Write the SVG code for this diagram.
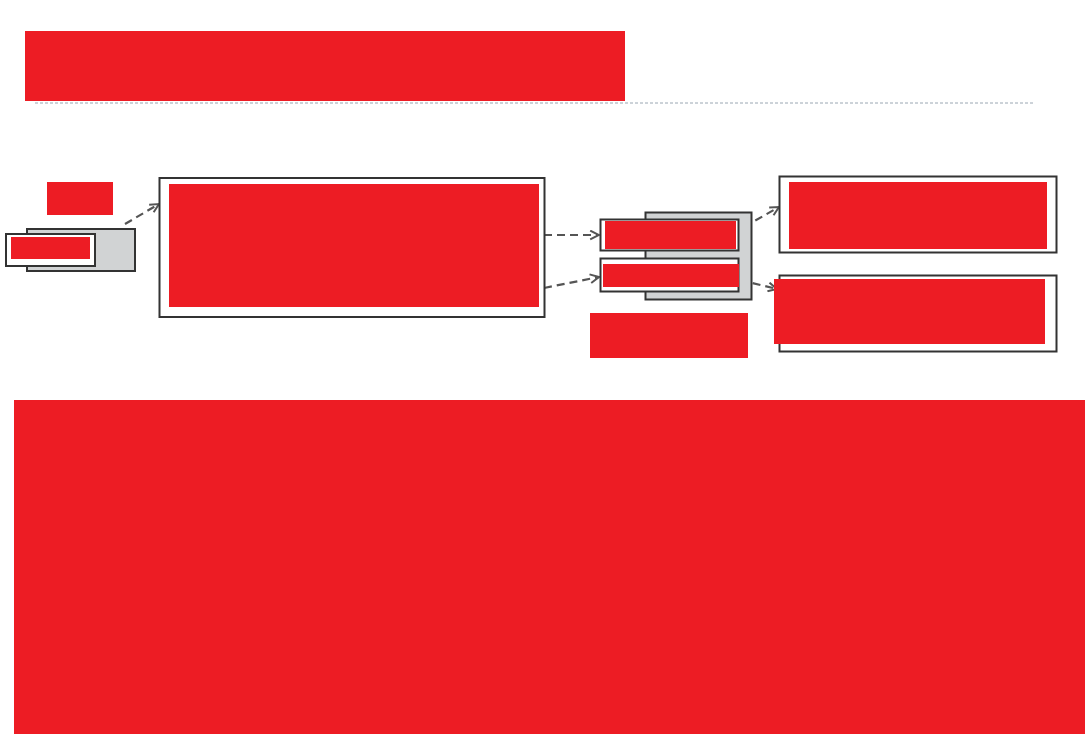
<svg xmlns="http://www.w3.org/2000/svg" width="1085" height="734" viewBox="0 0 1085 734">
<style>
.red{fill:#ED1C24;stroke:none}
.box{fill:#fff;stroke:#333;stroke-width:2}
.shadow{fill:#d1d3d4;stroke:#333;stroke-width:2}
.conn{fill:none;stroke:#555;stroke-width:2.2;stroke-dasharray:8,5;marker-end:url(#ah)}
</style>
<defs>
<marker id="ah" viewBox="0 0 10 10" refX="9" refY="5" markerWidth="11" markerHeight="11" markerUnits="userSpaceOnUse" orient="auto">
<path d="M1,1 L9,5 L1,9" fill="none" stroke="#555" stroke-width="1.8"/>
</marker>
</defs>
<rect width="1085" height="734" fill="#fff"/>
<g id="title">
<rect class="red" x="25" y="31" width="600" height="70"/>
<line x1="35" y1="103" x2="1034" y2="103" stroke="#9aa6b2" stroke-width="1" stroke-dasharray="3,2"/>
</g>
<g id="connectors">
<path class="conn" d="M125,224 L159,204"/>
<path class="conn" d="M544,235 L599,235"/>
<path class="conn" d="M544,288 L599,277"/>
<path class="conn" d="M744,227 L779,207"/>
<path class="conn" d="M740,280 L777,289"/>
</g>
<g id="label-left">
<rect class="red" x="47" y="182" width="66" height="33"/>
</g>
<g id="node-left">
<rect class="shadow" x="27" y="229" width="108" height="42"/>
<rect class="box" x="6" y="234" width="89" height="32"/>
<rect class="red" x="11" y="237" width="79" height="22"/>
</g>
<g id="node-main">
<rect class="box" x="159.5" y="178" width="385" height="139"/>
<rect class="red" x="169" y="184" width="370" height="123"/>
</g>
<g id="node-middle">
<rect class="shadow" x="645.5" y="212.5" width="106" height="87"/>
<rect class="box" x="600.5" y="219.5" width="138" height="31"/>
<rect class="red" x="605" y="221" width="131" height="28"/>
<rect class="box" x="600.5" y="258.5" width="138" height="33"/>
<rect class="red" x="603" y="264" width="136" height="23"/>
</g>
<g id="label-middle">
<rect class="red" x="590" y="313" width="158" height="45"/>
</g>
<g id="node-right-top">
<rect class="box" x="779.5" y="176.5" width="277" height="76"/>
<rect class="red" x="789" y="182" width="258" height="67"/>
</g>
<g id="node-right-bottom">
<rect class="box" x="779.5" y="275.5" width="277" height="76"/>
<rect class="red" x="774" y="279" width="271" height="65"/>
</g>
<g id="bottom-block">
<rect class="red" x="14" y="400" width="1071" height="334"/>
</g>
</svg>
